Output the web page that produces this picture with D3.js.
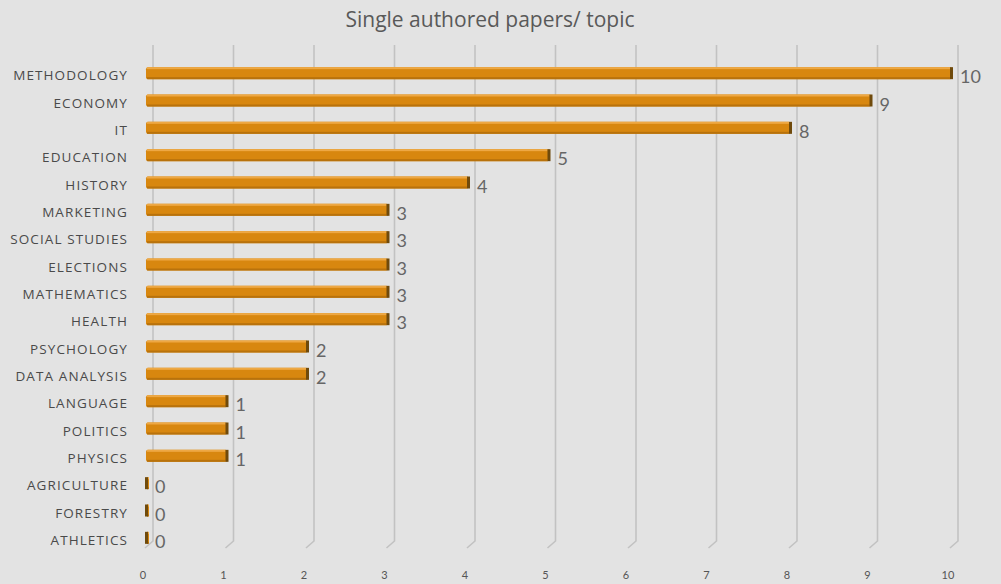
<!DOCTYPE html>
<html>
<head>
<meta charset="utf-8">
<script src="https://cdn.jsdelivr.net/npm/d3@7"></script>
<style>
html,body{margin:0;padding:0;background:#e3e3e3;}
svg{display:block;}
</style>
</head>
<body>
<svg id="chart" width="1001" height="584"></svg>
<script>
const title = "Single authored papers/ topic";
const categories = ["METHODOLOGY","ECONOMY","IT","EDUCATION","HISTORY","MARKETING","SOCIAL STUDIES","ELECTIONS","MATHEMATICS","HEALTH","PSYCHOLOGY","DATA ANALYSIS","LANGUAGE","POLITICS","PHYSICS","AGRICULTURE","FORESTRY","ATHLETICS"];
const values = [10,9,8,5,4,3,3,3,3,3,2,2,1,1,1,0,0,0];
const ticks = [0,1,2,3,4,5,6,7,8,9,10];

const svg = d3.select("#chart");
const W = 1001, H = 584;
svg.append("rect").attr("width", W).attr("height", H).attr("fill", "#e3e3e3");

const x = d3.scaleLinear().domain([0, 10]).range([147, 952]);
const y = d3.scaleBand().domain(categories).range([59.5, 551.5]).paddingInner(0);
const depth = 6, gridTop = 45, gridBottom = 541;

// gridlines with 3D floor slant
const grid = svg.append("g");
ticks.forEach(t => {
  const gx = x(t) + depth;
  grid.append("path")
    .attr("d", `M${gx},${gridTop} L${gx},${gridBottom} L${gx - 8},${gridBottom + 7}`)
    .attr("fill", "none").attr("stroke", "#c2c2c2").attr("stroke-width", 1.6);
});

// tick labels
svg.append("g").selectAll("text").data(ticks).join("text")
  .attr("x", d => x(d) - 4).attr("y", 579)
  .attr("text-anchor", "middle")
  .attr("font-family", "Lato, 'Open Sans', sans-serif")
  .attr("font-size", 11).attr("fill", "#555")
  .text(d => d);

// bars
const bh = 12;
const rows = categories.map((c, i) => ({c, v: values[i]}));
const bars = svg.append("g").selectAll("g").data(rows).join("g")
  .attr("transform", d => `translate(0,${y(d.c) + y.bandwidth() / 2 - bh / 2})`);

bars.append("rect")
  .attr("x", x(0) - 1).attr("y", 0)
  .attr("width", d => Math.max(3, x(d.v) - x(0) + 1)).attr("height", bh)
  .attr("rx", 2)
  .attr("fill", "#d8870f");
bars.append("rect")
  .attr("x", x(0)).attr("y", 0)
  .attr("width", d => Math.max(2, x(d.v) - x(0) - 2)).attr("height", 2)
  .attr("fill", "#eea844");
bars.append("rect")
  .attr("x", x(0)).attr("y", bh - 2)
  .attr("width", d => Math.max(2, x(d.v) - x(0) - 2)).attr("height", 2)
  .attr("fill", "#b8720c");
bars.append("rect")
  .attr("x", d => x(d.v) - 2).attr("y", 0)
  .attr("width", 3).attr("height", bh)
  .attr("fill", "#6f4a0c");

// value labels
bars.append("text")
  .attr("x", d => x(d.v) + 8).attr("y", bh / 2 + 10)
  .attr("font-family", "Lato, 'Open Sans', sans-serif")
  .attr("font-size", 18).attr("fill", "#666")
  .text(d => d.v);

// category labels
svg.append("g").selectAll("text").data(categories).join("text")
  .attr("x", 128).attr("y", d => y(d) + y.bandwidth() / 2 + 7)
  .attr("text-anchor", "end")
  .attr("font-family", "'Open Sans', sans-serif")
  .attr("font-size", 13.5).attr("letter-spacing", 1.1)
  .attr("fill", "#4a4a4a")
  .text(d => d);

// title
svg.append("text")
  .attr("x", 490).attr("y", 27)
  .attr("text-anchor", "middle")
  .attr("font-family", "'Open Sans', sans-serif")
  .attr("font-size", 21).attr("fill", "#595959")
  .text(title);
</script>
</body>
</html>
